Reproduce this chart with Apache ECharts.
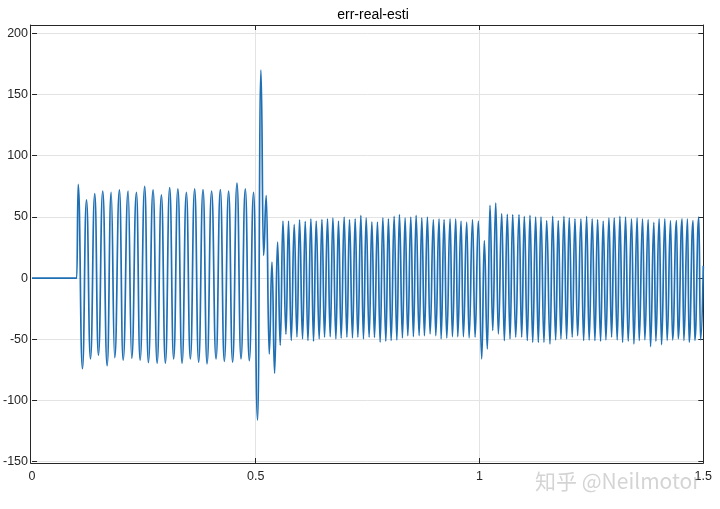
<!DOCTYPE html>
<html>
<head>
<meta charset="utf-8">
<script src="https://cdn.jsdelivr.net/npm/echarts@6/dist/echarts.min.js"></script>
<style>html,body{margin:0;padding:0;background:#fff;}#c{width:720px;height:509px;}</style>
</head>
<body>
<div id="c"></div>
<script>
// ---- data (time in s, value) ----
const titleText = 'err-real-esti';
const xTickLabels = ['0', '0.5', '1', '1.5'];
const yTickLabels = ['-150', '-100', '-50', '0', '50', '100', '150', '200'];

const idleT = [0, 0.1];
const idleV = [0, 0];

const burstT = [0.1031,0.1127,0.1217,0.1306,0.1402,0.1484,0.1580,0.1679,0.1768,0.1848,0.1953,0.2036,0.2147,0.2228,0.2333,0.2415,0.2518,0.2600,0.2705,0.2795,0.2891,0.2980,0.3076,0.3165,0.3259,0.3353,0.3449,0.3538,0.3634,0.3723,0.3821,0.3911,0.4013,0.4112,0.4208,0.4297,0.4393,0.4482,0.4580,0.4670,0.4766,0.4855,0.4951];
const burstV = [76.5,-74,64,-66,69,-63,71,-71.5,70,-65,72,-67,71,-65.5,70,-67,75,-69,72,-69.5,68,-69.5,74,-66,73,-69.5,70,-66,73,-68.7,72.4,-70,71,-66,72.4,-68,71,-68.7,77.6,-66,73,-67.5,70];

const faultT = [0.5040,0.5116,0.5174,0.5234,0.5301,0.5362,0.5420,0.5487,0.5547];
const faultV = [-116,170,18.5,67.5,-62,13,-77.7,29.4,-55];

const steadyT = [0.5607,0.5674,0.5732,0.5792,0.5859,0.5920,0.5978,0.6045,0.6105,0.6165,0.6232,0.6290,0.6350,0.6417,0.6478,0.6536,0.6603,0.6663,0.6723,0.6790,0.6848,0.6908,0.6975,0.7036,0.7094,0.7161,0.7221,0.7281,0.7348,0.7406,0.7467,0.7533,0.7594,0.7652,0.7719,0.7779,0.7839,0.7906,0.7964,0.8025,0.8092,0.8152,0.8210,0.8277,0.8337,0.8397,0.8464,0.8522,0.8583,0.8650,0.8710,0.8768,0.8835,0.8895,0.8969,0.9022,0.9096,0.9141,0.9208,0.9268,0.9342,0.9393,0.9469,0.9513,0.9587,0.9638,0.9714,0.9766,0.9844,0.9900,0.9973];
const steadyV = [46.5,-46,46.5,-51,44,-48,47.5,-49.6,46.3,-51,48.5,-51.6,46.5,-49.6,48,-48.3,48.5,-47.8,49.3,-49.6,46.5,-49,49.8,-48.3,47.7,-48.8,48.5,-48.3,51.2,-49.6,49.3,-48.3,46,-48.5,45.7,-52.4,49.3,-51.6,48.5,-51,50.4,-50.5,51.8,-48.8,49.3,-47,49.8,-47.8,51.2,-47,49.3,-47,49.8,-45.6,47.7,-47,48.5,-49.6,47.7,-48.8,48.5,-47.8,48.5,-47.8,46.5,-47.8,45.7,-48.8,47.7,-48.3,46.5];

const stepT = [1.0049,1.0107,1.0174,1.0234,1.0295,1.0362,1.0420,1.0496,1.0554,1.0621,1.0681,1.0741,1.0808,1.0882,1.0942];
const stepV = [-66,30.7,-57.8,59.4,-42.8,61.2,-45.6,52.6,-51,52,-49.6,51.8,-48.3,51.8,-48.3];

const tailT = [1.1000,1.1067,1.1127,1.1188,1.1254,1.1313,1.1373,1.1440,1.1500,1.1574,1.1634,1.1701,1.1759,1.1819,1.1886,1.1946,1.2004,1.2071,1.2132,1.2192,1.2266,1.2326,1.2393,1.2449,1.2518,1.2578,1.2638,1.2705,1.2763,1.2824,1.2891,1.2951,1.3009,1.3076,1.3136,1.3196,1.3263,1.3321,1.3397,1.3449,1.3522,1.3567,1.3643,1.3694,1.3768,1.3821,1.3895,1.3940,1.4013,1.4067,1.4141,1.4192,1.4268,1.4313,1.4402,1.4438,1.4527,1.4565,1.4647,1.4683,1.4772,1.4810,1.4900,1.4938,1.5000];
const tailV = [50.4,-51,51.2,-52.4,49.8,-52.4,49.8,-52.4,47,-53.7,50.4,-50.5,47,-49.6,50.4,-49.6,49.3,-48.3,48.5,-47,48.5,-51,50.5,-50.7,48.5,-51,47.7,-51.6,46.5,-50.5,49.3,-48.3,49.3,-50.5,50.4,-52.4,49.8,-51.6,48.5,-53.7,49.3,-51,48.5,-50.5,47.7,-56,45.5,-51.6,48.5,-54.3,48.5,-51,47,-50.5,47,-49.6,48.5,-51,48.5,-52.4,47,-51,49.8,-50.5,10];

// ---- build series ----
function pairs(t, v) { const n = Math.min(t.length, v.length); const out = []; for (let i = 0; i < n; i++) out.push([t[i], v[i]]); return out; }
const seriesData = [].concat(
  pairs(idleT, idleV), pairs(burstT, burstV), pairs(faultT, faultV),
  pairs(steadyT, steadyV), pairs(stepT, stepV), pairs(tailT, tailV)
);

const FONT = '"Liberation Sans", Arial, Helvetica, sans-serif';
const INK = '#262626';
const GRIDC = '#e3e3e3';

const xMap = {}; [0, 0.5, 1, 1.5].forEach((v, i) => xMap[v] = xTickLabels[i]);
const yMap = {}; [-150,-100,-50,0,50,100,150,200].forEach((v, i) => yMap[v] = yTickLabels[i]);

const chart = echarts.init(document.getElementById('c'), null, { renderer: 'canvas' });
chart.setOption({
  animation: false,
  backgroundColor: '#ffffff',
  title: {
    text: titleText, left: 368, top: 3, textAlign: 'center',
    textStyle: { fontFamily: FONT, fontSize: 14, fontWeight: 'normal', color: '#000' }
  },
  grid: [
    { left: 30.7, right: 16.7, top: 33.3, bottom: 47.3 },
    { left: 30.7, right: 16.7, top: 25, bottom: 46 }
  ],
  xAxis: [
    { gridIndex: 0, type: 'value', min: 0, max: 1.5, interval: 0.5, position: 'bottom',
      axisLine: { show: false, onZero: false }, axisTick: { show: false }, splitLine: { show: false },
      axisLabel: { fontFamily: FONT, fontSize: 12.5, color: INK, margin: 8, formatter: v => xMap[v] !== undefined ? xMap[v] : '' } },
    { gridIndex: 1, type: 'value', min: 0, max: 1.5, interval: 0.5, position: 'top',
      axisLine: { show: true, onZero: false, lineStyle: { color: INK, width: 1 } },
      axisTick: { show: true, inside: true, length: 5, lineStyle: { color: INK } },
      axisLabel: { show: false }, splitLine: { show: false } },
    { gridIndex: 1, type: 'value', min: 0, max: 1.5, interval: 0.5, position: 'bottom',
      axisLine: { show: true, onZero: false, lineStyle: { color: INK, width: 1 } },
      axisTick: { show: true, inside: true, length: 5, lineStyle: { color: INK } },
      axisLabel: { show: false }, splitLine: { show: true, lineStyle: { color: GRIDC, width: 1 } } }
  ],
  yAxis: [
    { gridIndex: 0, type: 'value', min: -150, max: 200, interval: 50, position: 'left',
      axisLine: { show: false, onZero: false },
      axisTick: { show: true, inside: true, length: 5, lineStyle: { color: INK } },
      axisLabel: { fontFamily: FONT, fontSize: 12.5, color: INK, margin: 4, formatter: v => yMap[v] !== undefined ? yMap[v] : '' },
      splitLine: { show: true, lineStyle: { color: GRIDC, width: 1 } } },
    { gridIndex: 0, type: 'value', min: -150, max: 200, interval: 50, position: 'right',
      axisLine: { show: false, onZero: false },
      axisTick: { show: true, inside: true, length: 5, lineStyle: { color: INK } },
      axisLabel: { show: false }, splitLine: { show: false } },
    { gridIndex: 1, type: 'value', min: 0, max: 1, position: 'left',
      axisLine: { show: true, onZero: false, lineStyle: { color: INK, width: 1 } },
      axisTick: { show: false }, axisLabel: { show: false }, splitLine: { show: false } },
    { gridIndex: 1, type: 'value', min: 0, max: 1, position: 'right',
      axisLine: { show: true, onZero: false, lineStyle: { color: INK, width: 1 } },
      axisTick: { show: false }, axisLabel: { show: false }, splitLine: { show: false } }
  ],
  series: [{
    type: 'line', xAxisIndex: 0, yAxisIndex: 0, data: seriesData,
    showSymbol: false, symbol: 'none', smooth: 0.5, smoothMonotone: 'x',
    lineStyle: { color: '#1f6fb4', width: 1.7 }, z: 3
  }],
  graphic: [{
    type: 'text', left: 535, top: 471, z: 100,
    style: { text: '知乎 @Neilmotor', font: '21px "Noto Sans CJK SC", "Liberation Sans", sans-serif', fill: 'rgba(160,160,160,0.45)' }
  }]
});
</script>
</body>
</html>
